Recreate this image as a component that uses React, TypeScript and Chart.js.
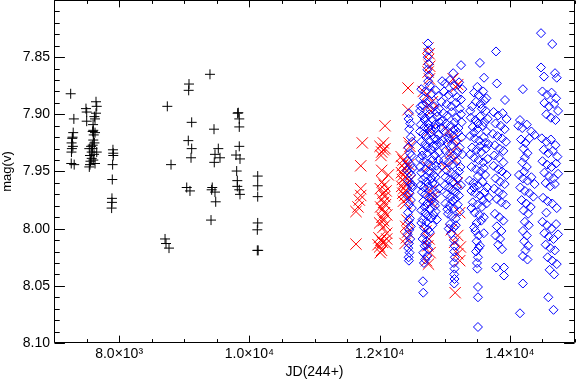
import React, { useEffect, useRef } from 'react';
import { Chart, registerables } from 'chart.js';

Chart.register(...registerables);

const X_MIN = 7000;
const X_MAX = 15000;
const Y_MIN = 7.8;
const Y_MAX = 8.1;
const xMajorTicks = [8000, 10000, 12000, 14000];
const yMajorTicks = [7.85, 7.9, 7.95, 8.0, 8.05, 8.1];
const X_MINOR_STEP = 500;
const Y_MINOR_COUNT = 30; // 0.01 steps

const xTitle = 'JD(244+)';
const yTitle = 'mag(v)';

// black plus series [JD, mag]
const blackPoints: [number, number][] = [
  [7256, 7.882], [7305, 7.904], [7295, 7.916], [7285, 7.92], [7270, 7.925], [7275, 7.93], [7268, 7.933], [7265, 7.943], [7310, 7.944], [7280, 7.921], [7290, 7.928],
  [7491, 7.895], [7502, 7.898], [7502, 7.906], [7645, 7.889], [7656, 7.893], [7645, 7.899], [7630, 7.904], [7603, 7.914], [7594, 7.915], [7630, 7.916],
  [7610, 7.918], [7603, 7.9225], [7594, 7.927], [7620, 7.925], [7542, 7.93], [7579, 7.933], [7656, 7.933], [7553, 7.936], [7579, 7.9385], [7603, 7.94],
  [7553, 7.944], [7542, 7.946], [7630, 7.943], [7590, 7.93], [7570, 7.928], [7615, 7.935], [7560, 7.941], [7600, 7.909], [7620, 7.902],
  [7905, 7.931], [7910, 7.934], [7900, 7.944], [7895, 7.957], [7890, 7.9735], [7890, 7.977], [7885, 7.982], [7910, 7.936],
  [8740, 7.893], [8797, 7.944], [8705, 8.009], [8720, 8.013], [8766, 8.017],
  [9073, 7.8735], [9068, 7.879], [9114, 7.907], [9062, 7.923], [9114, 7.93], [9104, 7.938], [9038, 7.964], [9088, 7.967],
  [9395, 7.865], [9457, 7.913], [9523, 7.93], [9472, 7.935], [9549, 7.938], [9461, 7.942], [9421, 7.966], [9472, 7.968], [9483, 7.9765], [9411, 7.9925], [9430, 7.964],
  [9830, 7.8986], [9845, 7.904], [9845, 7.911], [9845, 7.928], [9795, 7.9356], [9856, 7.939], [9805, 7.9496], [9815, 7.958], [9815, 7.963], [9845, 7.966], [9856, 7.97], [9820, 7.899],
  [10128, 7.954], [10128, 7.9625], [10128, 7.972], [10128, 7.995], [10122, 8.001], [10122, 8.019], [10135, 8.019],
];

// red cross series [JD, mag]
const redPoints: [number, number][] = [
  [11734, 7.925], [11710, 7.945], [11710, 7.965], [11710, 7.971], [11688, 7.975], [11668, 7.981], [11637, 7.985], [11637, 8.0135],
  [12083, 7.91], [12057, 7.925], [12006, 7.928], [12083, 7.93], [12032, 7.933], [12057, 7.931], [12020, 7.936], [12032, 7.949], [12133, 7.953],
  [12040, 7.959], [12070, 7.962], [12010, 7.965], [12100, 7.967], [12050, 7.969], [12080, 7.972], [12030, 7.974], [12060, 7.977], [12090, 7.979],
  [12015, 7.981], [12045, 7.983], [12075, 7.986], [12110, 7.988], [12035, 7.99], [12060, 7.993], [12000, 7.995], [12085, 7.997], [12050, 7.999],
  [12109, 8.004], [11990, 8.008], [12020, 8.01], [12045, 8.012], [11975, 8.014], [12000, 8.016], [12030, 8.019], [12010, 8.021], [12109, 8.009], [12100, 8.013],
  [12436, 7.877], [12436, 7.896], [12450, 7.925], [12466, 7.928], [12330, 7.937], [12360, 7.94], [12390, 7.942], [12345, 7.945], [12375, 7.947], [12410, 7.949],
  [12335, 7.951], [12365, 7.953], [12395, 7.955], [12350, 7.957], [12380, 7.959], [12420, 7.961], [12340, 7.963], [12370, 7.965], [12400, 7.967], [12355, 7.969],
  [12385, 7.971], [12440, 7.973], [12365, 7.976], [12400, 7.978], [12420, 7.9925], [12400, 7.998], [12430, 8.003], [12410, 8.008], [12390, 8.013], [12450, 7.944], [12460, 7.958],
  [12743, 7.842], [12760, 7.847], [12750, 7.852], [12770, 7.858], [12745, 7.863], [12765, 7.869], [12735, 7.883], [12750, 7.892], [12790, 7.897], [12775, 7.914],
  [12670, 7.88], [12810, 7.889], [12740, 7.946], [12780, 7.967], [12820, 7.972], [12800, 7.977], [12710, 8.002], [12760, 8.009], [12740, 8.015], [12775, 8.021], [12720, 8.028], [12750, 8.031],
  [13130, 7.869], [13200, 7.874], [13170, 7.876], [13050, 7.915], [13120, 7.921], [13180, 7.927], [13090, 7.934], [13150, 7.94], [13000, 7.946], [13190, 7.96],
  [13230, 7.986], [13100, 8.001], [13200, 8.006], [13150, 8.012], [13240, 8.016], [13200, 8.022], [13230, 8.028], [13160, 8.056],
];

// blue diamond series [JD, mag]
const bluePoints: [number, number][] = [
  // season ~12450
  [12450, 7.899], [12445, 7.904], [12470, 7.908], [12455, 7.913], [12480, 7.92], [12500, 7.924], [12440, 7.929], [12465, 7.934], [12490, 7.936], [12430, 7.941],
  [12475, 7.944], [12510, 7.947], [12455, 7.951], [12485, 7.953], [12440, 7.958], [12470, 7.961], [12500, 7.964], [12460, 7.969], [12425, 7.971], [12480, 7.975],
  [12450, 7.979], [12495, 7.982], [12435, 7.986], [12465, 7.991], [12445, 7.993], [12480, 7.998], [12455, 8.001], [12430, 8.005], [12470, 8.009], [12450, 8.013],
  [12440, 8.017], [12460, 8.021], [12445, 8.025], [12450, 8.028], [12505, 7.962], [12420, 7.949],
  // season ~12750
  [12743, 7.838], [12750, 7.844], [12740, 7.85], [12755, 7.856], [12735, 7.861], [12760, 7.866], [12745, 7.871], [12770, 7.875],
  [12640, 7.878], [12700, 7.88], [12800, 7.882], [12860, 7.879], [12680, 7.886], [12760, 7.888], [12900, 7.884], [12660, 7.892], [12720, 7.89], [12840, 7.893], [12780, 7.896], [12620, 7.897], [12880, 7.898],
  [12650, 7.901], [12700, 7.903], [12760, 7.9], [12820, 7.905], [12880, 7.902], [12920, 7.907], [12630, 7.909], [12690, 7.911], [12740, 7.908], [12800, 7.913],
  [12860, 7.912], [12670, 7.917], [12720, 7.919], [12780, 7.916], [12840, 7.921], [12900, 7.918], [12640, 7.924], [12700, 7.926], [12760, 7.923], [12820, 7.928],
  [12870, 7.927], [12660, 7.932], [12730, 7.934], [12790, 7.931], [12850, 7.936], [12910, 7.933], [12620, 7.939], [12680, 7.941], [12750, 7.943], [12810, 7.94],
  [12870, 7.945], [12700, 7.948], [12640, 7.951], [12770, 7.95], [12830, 7.953], [12890, 7.949], [12660, 7.957], [12720, 7.959], [12790, 7.956], [12850, 7.961],
  [12680, 7.964], [12750, 7.963], [12620, 7.946], [12930, 7.925], [12810, 7.96],
  [12650, 7.968], [12700, 7.97], [12760, 7.967], [12820, 7.972], [12880, 7.969], [12670, 7.976], [12730, 7.978], [12790, 7.975], [12850, 7.98], [12640, 7.984],
  [12700, 7.986], [12770, 7.983], [12830, 7.988], [12660, 7.992], [12720, 7.994], [12790, 7.991], [12680, 7.999], [12740, 8.001], [12810, 7.997], [12700, 8.005], [12860, 7.985],
  [12660, 8.009], [12720, 8.011], [12690, 8.015], [12750, 8.018], [12670, 8.021], [12730, 8.024], [12700, 8.027], [12680, 8.03], [12665, 8.046], [12670, 8.056],
  [12630, 7.893], [12910, 7.895], [12690, 7.905], [12850, 7.909], [12750, 7.912], [12620, 7.915], [12880, 7.922], [12730, 7.929], [12900, 7.94], [12650, 7.936],
  [12790, 7.945], [12860, 7.955], [12700, 7.955], [12630, 7.962], [12910, 7.965], [12760, 7.973], [12840, 7.977], [12690, 7.981], [12740, 7.989], [12880, 7.992],
  [12640, 7.995], [12770, 8.003], [12720, 8.014],
  // season ~13100
  [13250, 7.857], [13130, 7.864],
  [12960, 7.871], [13010, 7.873], [13080, 7.87], [13150, 7.875], [13220, 7.872], [13270, 7.878], [12990, 7.88], [13060, 7.883], [13120, 7.881], [13190, 7.885],
  [13250, 7.887], [12950, 7.889], [13030, 7.891], [13100, 7.893], [13170, 7.89], [13230, 7.895],
  [12980, 7.899], [13040, 7.901], [13110, 7.898], [13180, 7.903], [13250, 7.9], [12960, 7.906], [13020, 7.908], [13090, 7.91], [13150, 7.907], [13210, 7.912],
  [13000, 7.915], [13070, 7.917], [13130, 7.919], [13200, 7.916], [13260, 7.92], [12970, 7.923], [13040, 7.925], [13110, 7.927], [13170, 7.924], [13230, 7.929],
  [13010, 7.932], [13080, 7.934], [13140, 7.936], [13200, 7.933], [12990, 7.94], [13060, 7.942], [13120, 7.944], [13180, 7.941], [13240, 7.946], [13030, 7.949],
  [13100, 7.951], [13160, 7.953], [13220, 7.95], [13070, 7.957], [13130, 7.959],
  [13000, 7.962], [13060, 7.964], [13120, 7.966], [13190, 7.963], [13030, 7.97], [13090, 7.972], [13160, 7.974], [13220, 7.971], [13010, 7.978], [13070, 7.98],
  [13140, 7.982], [13200, 7.979], [13050, 7.987], [13110, 7.989], [13170, 7.991], [13080, 7.996], [13140, 7.999], [13100, 8.004],
  [13140, 8.01], [13150, 8.015], [13145, 8.02], [13155, 8.025], [13140, 8.03], [13150, 8.035], [13145, 8.04], [13150, 8.044], [13145, 8.048],
  [13260, 7.907], [12950, 7.912], [13150, 7.913], [13060, 7.921], [13270, 7.935], [12960, 7.945], [13200, 7.956], [13010, 7.955], [13250, 7.962], [13170, 7.968],
  [13120, 7.976], [13040, 7.983], [13230, 7.985], [13170, 7.997], [13060, 8.0],
  // season ~13520
  [13540, 7.855], [13603, 7.868], [13500, 7.876],
  [13450, 7.881], [13520, 7.883], [13590, 7.88], [13640, 7.886], [13480, 7.889], [13550, 7.891], [13610, 7.888], [13420, 7.893], [13570, 7.895],
  [13400, 7.903], [13470, 7.905], [13540, 7.902], [13610, 7.907], [13660, 7.904], [13430, 7.911], [13500, 7.913], [13580, 7.91], [13640, 7.915], [13390, 7.919],
  [13460, 7.921], [13530, 7.923], [13600, 7.92], [13670, 7.926], [13420, 7.929], [13490, 7.931], [13560, 7.933], [13630, 7.93], [13450, 7.938], [13520, 7.94],
  [13590, 7.942], [13660, 7.939], [13410, 7.946], [13480, 7.948], [13550, 7.95], [13620, 7.953],
  [13380, 7.958], [13440, 7.96], [13510, 7.962], [13580, 7.959], [13650, 7.964], [13410, 7.967], [13470, 7.969], [13540, 7.971], [13610, 7.968], [13680, 7.973],
  [13430, 7.977], [13500, 7.979], [13570, 7.981], [13640, 7.978], [13460, 7.986], [13530, 7.988], [13600, 7.99], [13490, 7.995],
  [13470, 8.002], [13520, 8.006], [13490, 8.011], [13540, 8.015], [13480, 8.02], [13510, 8.025], [13495, 8.03], [13500, 8.035],
  [13510, 8.051], [13510, 8.06], [13510, 8.086],
  [13390, 7.897], [13630, 7.897], [13510, 7.908], [13450, 7.916], [13620, 7.925], [13540, 7.928], [13390, 7.935], [13600, 7.947], [13510, 7.954], [13450, 7.964],
  [13590, 7.975], [13410, 7.982], [13560, 7.993], [13450, 7.999], [13600, 8.004], [13520, 8.017],
  // season ~13850
  [13787, 7.845], [13800, 7.873], [13925, 7.8875],
  [13750, 7.898], [13820, 7.901], [13890, 7.899], [13950, 7.904], [13780, 7.908], [13860, 7.91], [13920, 7.913], [13740, 7.917], [13810, 7.919], [13880, 7.921],
  [13940, 7.924], [13770, 7.927], [13840, 7.93], [13900, 7.932], [13760, 7.936], [13830, 7.938],
  [13900, 7.942], [13750, 7.945], [13820, 7.948], [13880, 7.95], [13950, 7.953], [13780, 7.956], [13850, 7.959], [13920, 7.961], [13760, 7.965], [13830, 7.968],
  [13890, 7.97], [13800, 7.974], [13870, 7.977], [13940, 7.979],
  [13770, 7.987], [13840, 7.99], [13900, 7.993], [13800, 7.998], [13870, 8.002], [13780, 8.006], [13850, 8.009], [13820, 8.014], [13880, 8.018],
  [13790, 8.034], [13910, 8.034], [13910, 8.041],
  // season ~14250
  [14200, 7.878], [14155, 7.905], [14130, 7.91], [14190, 7.912], [14260, 7.909], [14330, 7.915], [14380, 7.918], [14170, 7.922], [14240, 7.925], [14300, 7.921],
  [14210, 7.93], [14270, 7.934], [14230, 7.938], [14190, 7.942], [14260, 7.946], [14220, 7.95], [14140, 7.953], [14200, 7.956], [14270, 7.958], [14330, 7.955],
  [14380, 7.961], [14160, 7.964], [14230, 7.967], [14300, 7.969], [14360, 7.972], [14180, 7.975], [14250, 7.978], [14320, 7.981], [14210, 7.984], [14280, 7.987],
  [14230, 7.994], [14290, 7.997], [14200, 8.002], [14260, 8.006], [14220, 8.011], [14280, 8.015], [14240, 8.019], [14200, 8.024], [14270, 8.027], [14200, 8.048], [14155, 8.074],
  // season ~14600
  [14478, 7.829], [14650, 7.8385], [14478, 7.859], [14524, 7.867], [14693, 7.864], [14720, 7.868], [14500, 7.88], [14570, 7.883], [14640, 7.881], [14710, 7.886],
  [14530, 7.89], [14600, 7.893], [14680, 7.891], [14740, 7.897], [14560, 7.9], [14630, 7.903], [14700, 7.905], [14490, 7.921], [14560, 7.924], [14630, 7.922],
  [14700, 7.927], [14520, 7.931], [14590, 7.934], [14660, 7.932], [14730, 7.937], [14500, 7.941], [14570, 7.944], [14640, 7.946], [14710, 7.943], [14530, 7.951],
  [14600, 7.954], [14670, 7.956], [14740, 7.952], [14550, 7.96], [14620, 7.963], [14690, 7.961], [14510, 7.973], [14580, 7.976], [14650, 7.978], [14720, 7.982],
  [14560, 7.986], [14500, 7.994], [14570, 7.997], [14640, 8.0], [14710, 7.996], [14530, 8.004], [14600, 8.007], [14670, 8.009], [14740, 8.005], [14550, 8.014],
  [14620, 8.017], [14690, 8.019], [14580, 8.025], [14650, 8.028], [14720, 8.031], [14610, 8.036], [14680, 8.04], [14590, 8.06], [14670, 8.071],
];

const SUP: Record<string, string> = { '0': '⁰', '1': '¹', '2': '²', '3': '³', '4': '⁴', '5': '⁵', '6': '⁶', '7': '⁷', '8': '⁸', '9': '⁹' };
function sciLabel(v: number): string {
  const e = Math.floor(Math.log10(v) + 1e-9);
  const m = v / Math.pow(10, e);
  return `${m.toFixed(1)}×10${String(e).split('').map((c) => SUP[c] || c).join('')}`;
}

const FONT = { family: "'Liberation Sans', Arial, Helvetica, sans-serif", size: 14 };

const frameTicksPlugin = {
  id: 'frameTicks',
  afterDatasetsDraw(chart: any) {
    const { ctx, chartArea, scales } = chart;
    const { left, right, top, bottom } = chartArea;
    const xs = scales.x;
    const ys = scales.y;
    ctx.save();
    ctx.strokeStyle = '#000';
    ctx.lineWidth = 1;
    const L = Math.round(left) + 0.5;
    const R = Math.round(right) - 0.5;
    const T = Math.round(top) + 0.5;
    const B = Math.round(bottom) - 0.5;
    ctx.beginPath();
    ctx.rect(L, T, R - L, B - T);
    ctx.stroke();
    const xLen = (bottom - top) * 0.02;
    const yLen = (right - left) * 0.02;
    ctx.beginPath();
    for (let v = X_MIN; v <= X_MAX; v += X_MINOR_STEP) {
      const px = Math.round(xs.getPixelForValue(v)) + 0.5;
      const major = xMajorTicks.includes(v);
      const len = major ? xLen : xLen / 2;
      ctx.moveTo(px, B); ctx.lineTo(px, B - len);
      ctx.moveTo(px, T); ctx.lineTo(px, T + len);
    }
    for (let i = 0; i <= Y_MINOR_COUNT; i++) {
      const v = Y_MIN + (i * (Y_MAX - Y_MIN)) / Y_MINOR_COUNT;
      const py = Math.round(ys.getPixelForValue(v)) + 0.5;
      const len = i % 5 === 0 ? yLen : yLen / 2;
      ctx.moveTo(L, py); ctx.lineTo(L + len, py);
      ctx.moveTo(R, py); ctx.lineTo(R - len, py);
    }
    ctx.stroke();
    ctx.restore();
  },
};

export default function App() {
  const canvasRef = useRef<HTMLCanvasElement | null>(null);

  useEffect(() => {
    document.body.style.margin = '0';
    const canvas = canvasRef.current;
    if (!canvas) return;
    const toData = (pts: [number, number][]) => pts.map(([x, y]) => ({ x, y }));
    const chart = new Chart(canvas, {
      type: 'scatter',
      data: {
        datasets: [
          {
            label: 'black',
            data: toData(blackPoints),
            pointStyle: 'cross',
            pointRadius: 5,
            pointBorderWidth: 1,
            borderColor: '#000000',
            backgroundColor: 'rgba(0,0,0,0)',
            order: 2,
          },
          {
            label: 'red',
            data: toData(redPoints),
            pointStyle: 'crossRot',
            pointRadius: 8,
            pointBorderWidth: 1,
            borderColor: '#ff0000',
            backgroundColor: 'rgba(0,0,0,0)',
            order: 1,
          },
          {
            label: 'blue',
            data: toData(bluePoints),
            pointStyle: 'rectRot',
            pointRadius: 4.5,
            pointBorderWidth: 1,
            borderColor: '#0000ff',
            backgroundColor: 'rgba(0,0,0,0)',
            order: 0,
          },
        ],
      },
      options: {
        responsive: false,
        animation: false,
        events: [],
        layout: { autoPadding: false, padding: { left: 0, right: 3, top: 0, bottom: 0 } },
        plugins: { legend: { display: false }, tooltip: { enabled: false } },
        scales: {
          x: {
            type: 'linear',
            min: X_MIN,
            max: X_MAX,
            afterBuildTicks: (s: any) => {
              s.ticks = xMajorTicks.map((v) => ({ value: v }));
            },
            afterFit: (s: any) => {
              s.height = 38;
              s.paddingLeft = 0;
              s.paddingRight = 0;
            },
            grid: { display: false, drawTicks: false },
            border: { display: false },
            ticks: {
              autoSkip: false,
              maxRotation: 0,
              padding: 3,
              color: '#000',
              font: FONT,
              callback: (v: any) => sciLabel(Number(v)),
            },
            title: { display: true, text: xTitle, color: '#000', font: FONT, padding: { top: 0, bottom: 0 } },
          },
          y: {
            type: 'linear',
            reverse: true,
            min: Y_MIN,
            max: Y_MAX,
            afterBuildTicks: (s: any) => {
              s.ticks = yMajorTicks.map((v) => ({ value: v }));
            },
            afterFit: (s: any) => {
              s.width = 54;
              s.paddingTop = 0;
              s.paddingBottom = 0;
            },
            grid: { display: false, drawTicks: false },
            border: { display: false },
            ticks: {
              padding: 4,
              color: '#000',
              font: FONT,
              callback: (v: any) => Number(v).toFixed(2),
            },
            title: { display: true, text: yTitle, color: '#000', font: { ...FONT, size: 13 }, padding: { top: 0, bottom: 0 } },
          },
        },
      },
      plugins: [frameTicksPlugin],
    } as any);
    return () => chart.destroy();
  }, []);

  return (
    <div style={{ width: 578, height: 381 }}>
      <canvas ref={canvasRef} width={578} height={381} style={{ display: 'block' }} />
    </div>
  );
}
